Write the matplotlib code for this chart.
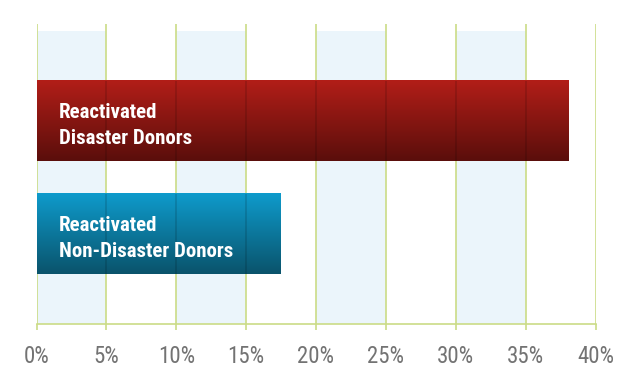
import numpy as np
import matplotlib.pyplot as plt
from matplotlib.colors import LinearSegmentedColormap

# data
labels = ["Reactivated\nNon-Disaster Donors", "Reactivated\nDisaster Donors"]
values = [17.4, 38.0]
ticks = [0, 5, 10, 15, 20, 25, 30, 35, 40]
tick_labels = [f"{t}%" for t in ticks]

bar_colors = [("#0e9bcc", "#0a536b"), ("#b21e18", "#5a0e0b")]
grid_color = "#cbdc86"
band_color = "#ebf5fb"
font = ["Roboto Condensed", "DejaVu Sans"]

fig = plt.figure(figsize=(6.4, 3.85), dpi=100)
ax = fig.add_axes([36.5 / 640, 1 - 324 / 385, 559 / 640, 300 / 385])

y0, y1 = -0.796, 1.858
ax.set_xlim(0, 40)
ax.set_ylim(y0, y1)
height = 0.708

# alternating light blue bands
band_top = (1.796 - y0) / (y1 - y0)
for start in ticks[:-1:2]:
    ax.axvspan(start, start + 5, ymin=0, ymax=band_top, color=band_color, lw=0, zorder=0)

for t in ticks:
    ax.axvline(t, color=grid_color, lw=1.2, zorder=1)

grad = np.linspace(0, 1, 256).reshape(-1, 1)
for i, (lab, val) in enumerate(zip(labels, values)):
    cmap = LinearSegmentedColormap.from_list("b", bar_colors[i])
    ax.imshow(grad, cmap=cmap, aspect="auto", origin="upper",
              extent=(0, val, i - height / 2, i + height / 2), zorder=2)
    for t in ticks[1:]:
        if t < val:
            ax.vlines(t, i - height / 2, i + height / 2, color="black", alpha=0.15, lw=1.2, zorder=3)
    ax.text(1.61, i - 0.04, lab, color="white", fontsize=15, fontweight="bold",
            family=font, ha="left", va="center", linespacing=1.5, zorder=4)

ax.set_xlim(0, 40)
ax.set_ylim(y0, y1)
for s in ["top", "right", "left"]:
    ax.spines[s].set_visible(False)
ax.spines["bottom"].set_color(grid_color)
ax.spines["bottom"].set_linewidth(1.2)
ax.set_yticks([])
ax.set_xticks(ticks)
ax.set_xticklabels(tick_labels, family=font, fontsize=16.5, color="#737373")
ax.tick_params(axis="x", length=4, width=1.2, color=grid_color, pad=11)

fig.savefig("out.png", dpi=100)
